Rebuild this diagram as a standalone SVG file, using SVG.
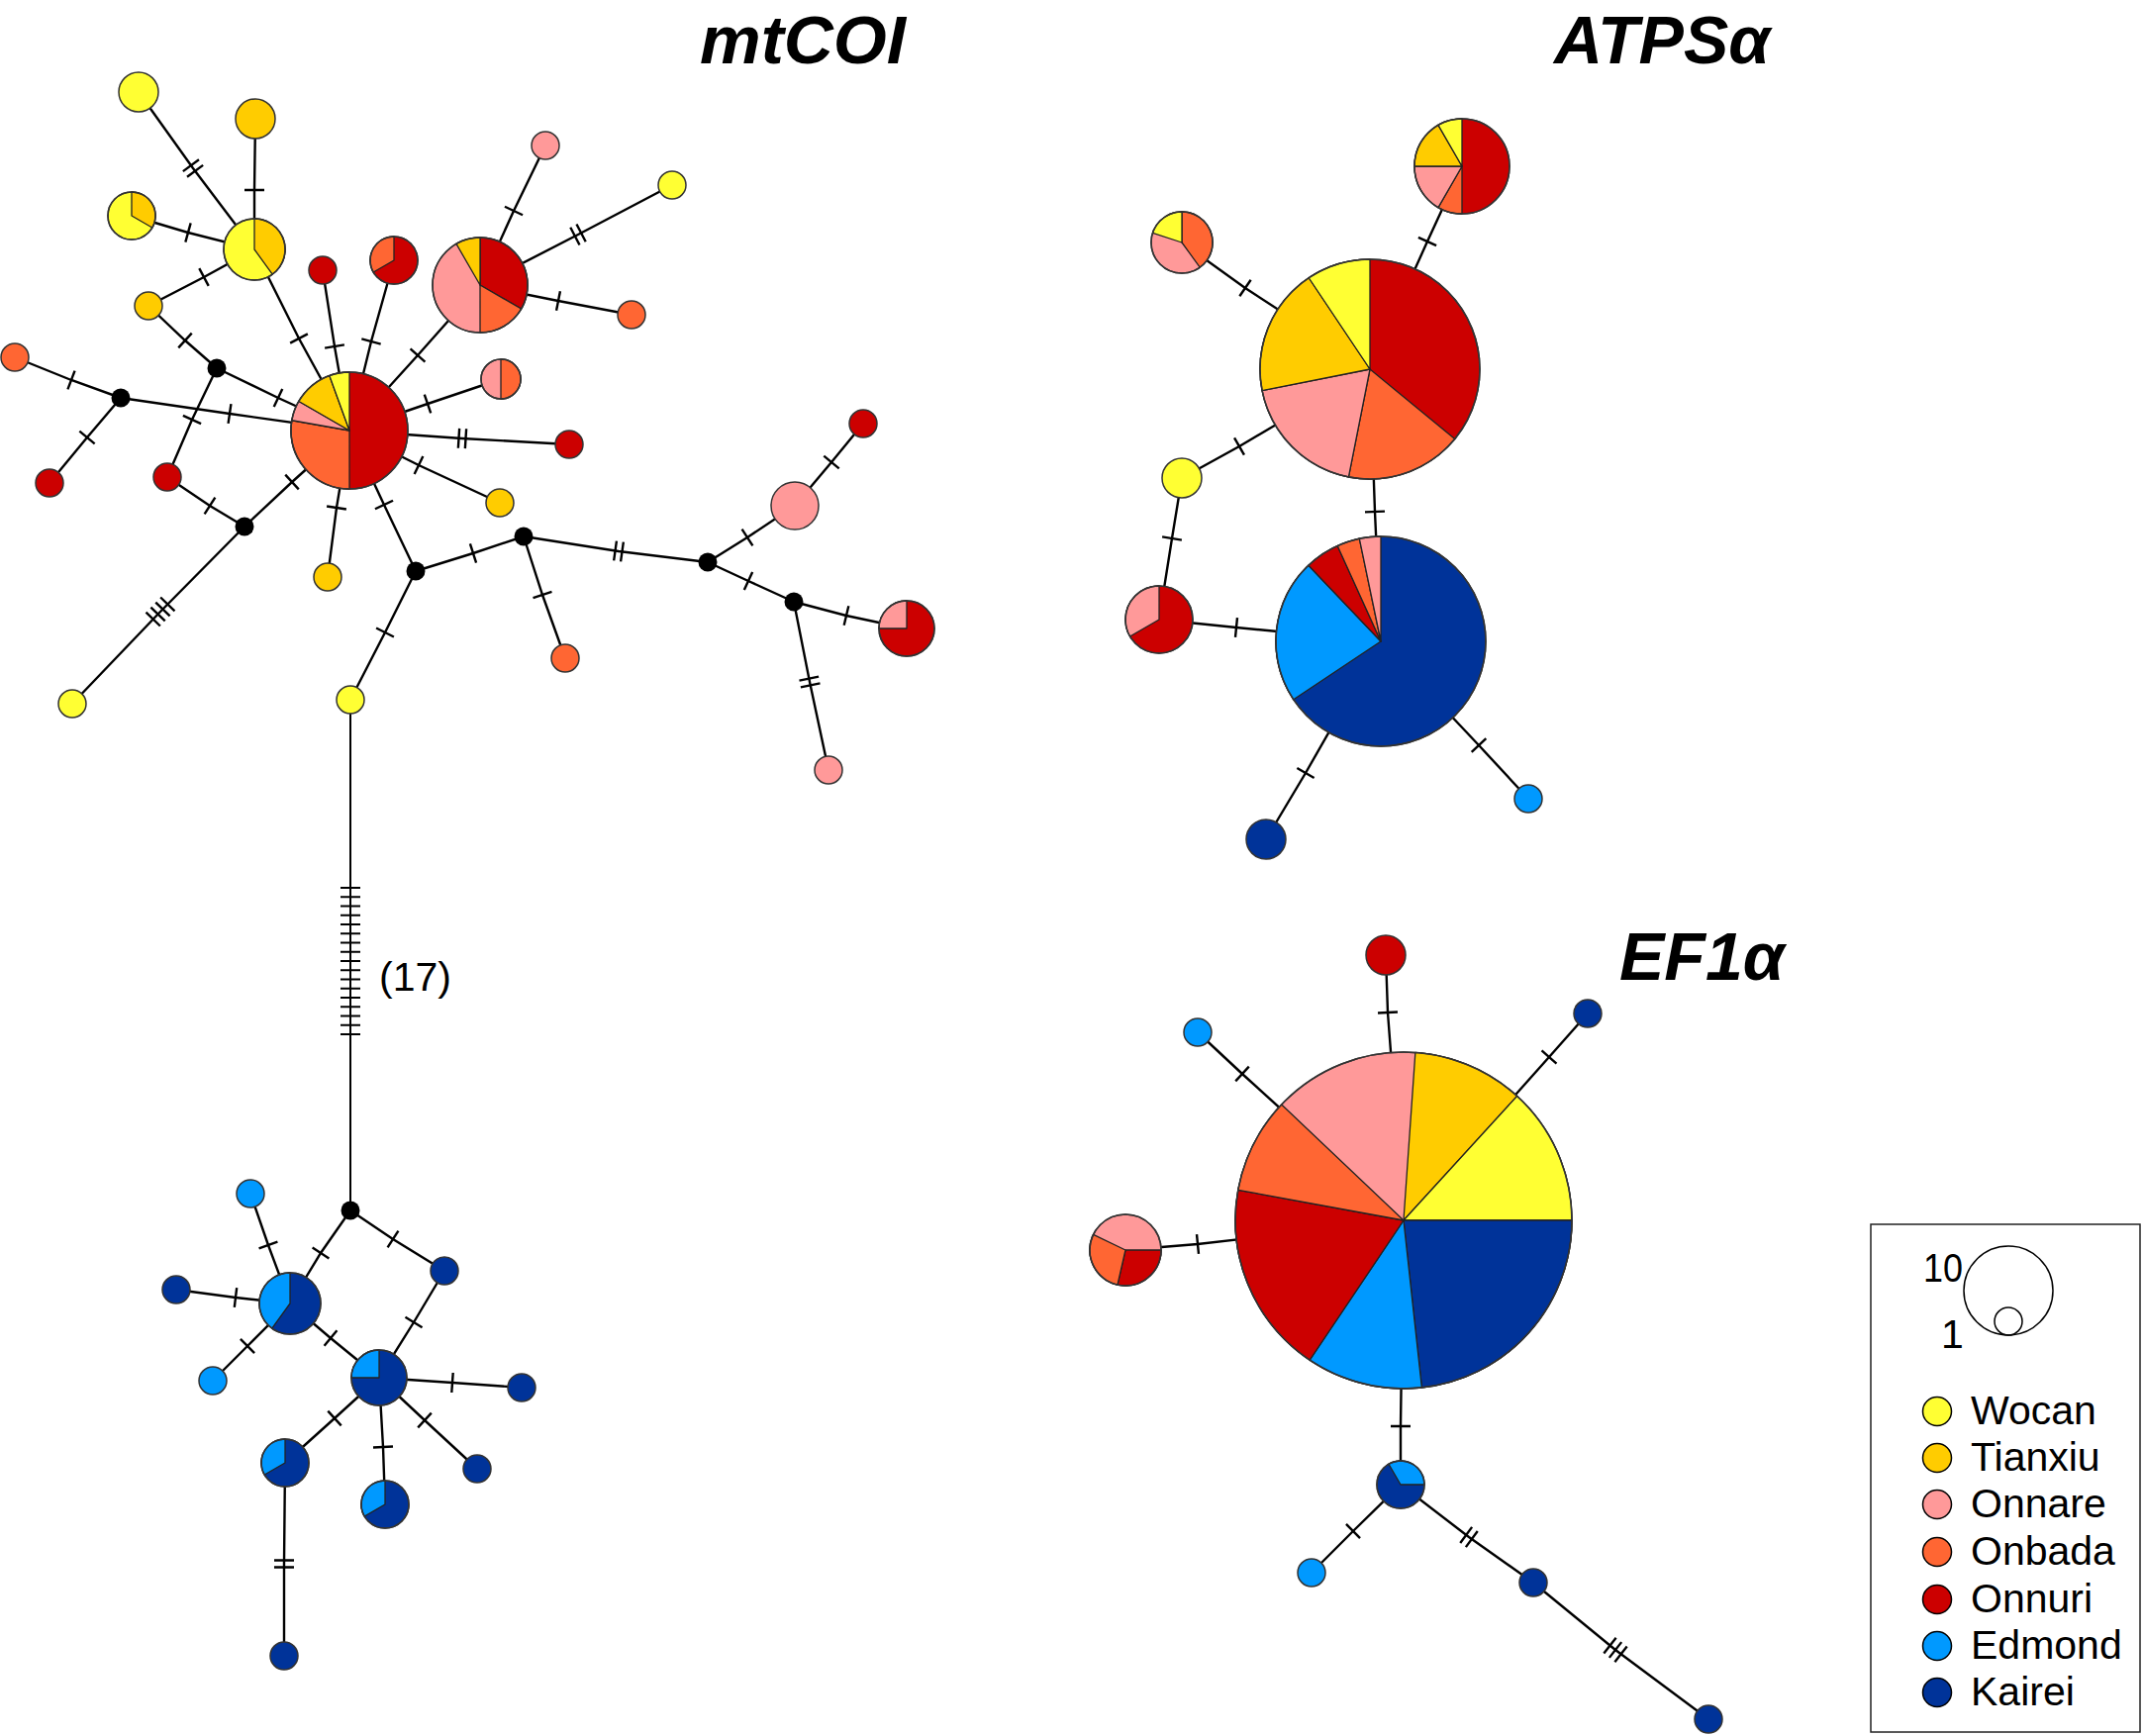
<svg xmlns="http://www.w3.org/2000/svg" width="2165" height="1754" viewBox="0 0 2165 1754">
<style>
.e{fill:none;stroke:#000;stroke-width:2.4}
.e17{fill:none;stroke:#000;stroke-width:2}
.tk{fill:none;stroke:#000;stroke-width:2.4}
.n{stroke:#333;stroke-width:1.5}
.o{fill:none;stroke:#333;stroke-width:1.5}
.w{stroke:#222;stroke-width:1.3;stroke-linejoin:round}
.k{fill:#000}
.W{fill:#FFFF33}.T{fill:#FFCC00}.P{fill:#FF9999}.O{fill:#FF6633}.R{fill:#CC0000}.E{fill:#0099FF}.K{fill:#003399}
.ttl{font-family:"Liberation Sans",Arial,sans-serif;font-weight:bold;font-style:italic;font-size:68px;fill:#000}
.lg{font-family:"Liberation Sans",Arial,sans-serif;font-size:41px;fill:#000}
.lc{stroke:#000;stroke-width:1.5}
</style>
<defs>
<marker id="t1" markerUnits="userSpaceOnUse" orient="auto" overflow="visible" markerWidth="1" markerHeight="1"><path class="tk" d="M0,-10V10"/></marker>
<marker id="t2" markerUnits="userSpaceOnUse" orient="auto" overflow="visible" markerWidth="1" markerHeight="1"><path class="tk" d="M-3.5,-10V10M3.5,-10V10"/></marker>
<marker id="t3" markerUnits="userSpaceOnUse" orient="auto" overflow="visible" markerWidth="1" markerHeight="1"><path class="tk" d="M-7,-10V10M0,-10V10M7,-10V10"/></marker>
<marker id="t4" markerUnits="userSpaceOnUse" orient="auto" overflow="visible" markerWidth="1" markerHeight="1"><path class="tk" d="M-10.5,-10V10M-3.5,-10V10M3.5,-10V10M10.5,-10V10"/></marker>
<marker id="t17" markerUnits="userSpaceOnUse" orient="auto" overflow="visible" markerWidth="1" markerHeight="1"><path d="M0,-10V10" fill="none" stroke="#000" stroke-width="2"/></marker>
</defs>

<g id="connectors">
<g class="e" marker-mid="url(#t1)">
<path d="M258,120L257,192L257,252"/>
<path d="M133,218L190,235L257,252"/>
<path d="M150,309L206,280L257,252"/>
<path d="M257,252L302,342L353,435"/>
<path d="M326,273L338,350L353,435"/>
<path d="M398,263L375,345L353,435"/>
<path d="M150,309L187,344L219,372"/>
<path d="M219,372L281,402L353,435"/>
<path d="M15,361L72,384L122,402"/>
<path d="M122,402L232,418L353,435"/>
<path d="M219,372L194,424L169,482"/>
<path d="M122,402L88,442L50,488"/>
<path d="M169,482L212,511L247,532"/>
<path d="M247,532L295,487L353,435"/>
<path d="M353,435L340,513L331,583"/>
<path d="M353,435L388,510L420,577"/>
<path d="M420,577L389,639L354,707"/>
<path d="M353,435L422,359L485,288"/>
<path d="M353,435L432,408L506,383"/>
<path d="M353,435L423,470L505,508"/>
<path d="M485,288L519,213L551,147"/>
<path d="M485,288L564,304L638,318"/>
<path d="M420,577L478,559L529,542"/>
<path d="M529,542L548,601L571,665"/>
<path d="M715,568L755,543L803,511"/>
<path d="M803,511L840,467L872,428"/>
<path d="M715,568L756,587L802,608"/>
<path d="M802,608L855,622L916,635"/>
<path d="M354,1223L324,1266L293,1317"/>
<path d="M354,1223L397,1252L449,1284"/>
<path d="M253,1206L271,1258L293,1317"/>
<path d="M178,1303L238,1311L293,1317"/>
<path d="M215,1395L250,1360L293,1317"/>
<path d="M293,1317L334,1352L383,1392"/>
<path d="M449,1284L418,1336L383,1392"/>
<path d="M383,1392L457,1397L527,1402"/>
<path d="M383,1392L429,1435L482,1484"/>
<path d="M383,1392L338,1433L288,1478"/>
<path d="M383,1392L387,1462L389,1520"/>
<path d="M1384,373L1442,244L1477,168"/>
<path d="M1384,373L1258,291L1194,245"/>
<path d="M1384,373L1252,451L1194,483"/>
<path d="M1384,373L1389,517L1395,648"/>
<path d="M1194,483L1184,544L1171,626"/>
<path d="M1171,626L1249,634L1395,648"/>
<path d="M1395,648L1319,781L1279,848"/>
<path d="M1395,648L1494,753L1544,807"/>
<path d="M1418,1233L1402,1023L1400,965"/>
<path d="M1418,1233L1255,1085L1210,1043"/>
<path d="M1418,1233L1565,1068L1604,1024"/>
<path d="M1137,1263L1210,1257L1418,1233"/>
<path d="M1418,1233L1415,1441L1415,1500"/>
<path d="M1415,1500L1367,1547L1325,1589"/>
</g>
<g class="e" marker-mid="url(#t2)">
<path d="M140,93L195,170L257,252"/>
<path d="M353,435L467,443L575,449"/>
<path d="M485,288L584,237L679,187"/>
<path d="M529,542L625,557L715,568"/>
<path d="M802,608L818,689L837,778"/>
<path d="M288,1478L287,1580L287,1673"/>
<path d="M1415,1500L1484,1553L1549,1599"/>
</g>
<path class="e" marker-mid="url(#t3)" d="M1549,1599L1632,1667L1726,1737"/>
<path class="e" marker-mid="url(#t4)" d="M247,532L162,618L73,711"/>
<path class="e17" marker-mid="url(#t17)" d="M354,707L354,897L354,906.25L354,915.5L354,924.75L354,934L354,943.25L354,952.5L354,961.75L354,971L354,980.25L354,989.5L354,998.75L354,1008L354,1017.25L354,1026.5L354,1035.75L354,1045L354,1223"/>
</g>

<!-- mtCOI nodes -->
<g id="m1" transform="translate(353,435)">
<circle class="n R" r="59"/>
<path class="w O" d="M0,0L0,59A59,59 0 0 1 -58.10,-10.25Z"/>
<path class="w P" d="M0,0L-58.10,-10.25A59,59 0 0 1 -51.10,-29.5Z"/>
<path class="w T" d="M0,0L-51.10,-29.5A59,59 0 0 1 -20.18,-55.44Z"/>
<path class="w W" d="M0,0L-20.18,-55.44A59,59 0 0 1 0,-59Z"/>
<circle class="o" r="59"/>
</g>
<g id="m2" transform="translate(257,252)">
<circle class="n W" r="31"/>
<path class="w T" d="M0,0L0,-31A31,31 0 0 1 18.22,25.08Z"/>
<circle class="o" r="31"/>
</g>
<g id="m3"><circle class="n W" cx="140" cy="93" r="20"/></g>
<g id="m4"><circle class="n T" cx="258" cy="120" r="20"/></g>
<g id="m5" transform="translate(133,218)">
<circle class="n W" r="24"/>
<path class="w T" d="M0,0L0,-24A24,24 0 0 1 20.78,12Z"/>
<circle class="o" r="24"/>
</g>
<g id="m6"><circle class="n T" cx="150" cy="309" r="14"/></g>
<g id="m7"><circle class="n O" cx="15" cy="361" r="14"/></g>
<g id="m8"><circle class="k" cx="122" cy="402" r="9.5"/></g>
<g id="m9"><circle class="k" cx="219" cy="372" r="9.5"/></g>
<g id="m10"><circle class="n R" cx="326" cy="273" r="14"/></g>
<g id="m11" transform="translate(398,263)">
<circle class="n R" r="24"/>
<path class="w O" d="M0,0L-20.78,12A24,24 0 0 1 0,-24Z"/>
<circle class="o" r="24"/>
</g>
<g id="m12" transform="translate(485,288)">
<circle class="n P" r="48"/>
<path class="w R" d="M0,0L0,-48A48,48 0 0 1 41.57,24Z"/>
<path class="w O" d="M0,0L41.57,24A48,48 0 0 1 0,48Z"/>
<path class="w T" d="M0,0L-24,-41.57A48,48 0 0 1 0,-48Z"/>
<circle class="o" r="48"/>
</g>
<g id="m13"><circle class="n P" cx="551" cy="147" r="14"/></g>
<g id="m14"><circle class="n W" cx="679" cy="187" r="14"/></g>
<g id="m15"><circle class="n O" cx="638" cy="318" r="14"/></g>
<g id="m16" transform="translate(506,383)">
<circle class="n P" r="20"/>
<path class="w O" d="M0,0L0,-20A20,20 0 0 1 0,20Z"/>
<circle class="o" r="20"/>
</g>
<g id="m17"><circle class="n R" cx="575" cy="449" r="14"/></g>
<g id="m18"><circle class="n T" cx="505" cy="508" r="14"/></g>
<g id="m19"><circle class="n R" cx="50" cy="488" r="14"/></g>
<g id="m20"><circle class="n R" cx="169" cy="482" r="14"/></g>
<g id="m21"><circle class="k" cx="247" cy="532" r="9.5"/></g>
<g id="m22"><circle class="n W" cx="73" cy="711" r="14"/></g>
<g id="m23"><circle class="n T" cx="331" cy="583" r="14"/></g>
<g id="m24"><circle class="k" cx="420" cy="577" r="9.5"/></g>
<g id="m25"><circle class="n W" cx="354" cy="707" r="14"/></g>
<g id="m26"><circle class="k" cx="529" cy="542" r="9.5"/></g>
<g id="m27"><circle class="n O" cx="571" cy="665" r="14"/></g>
<g id="m28"><circle class="k" cx="715" cy="568" r="9.5"/></g>
<g id="m29"><circle class="n P" cx="803" cy="511" r="24"/></g>
<g id="m30"><circle class="n R" cx="872" cy="428" r="14"/></g>
<g id="m31"><circle class="k" cx="802" cy="608" r="9.5"/></g>
<g id="m32" transform="translate(916,635)">
<circle class="n R" r="28"/>
<path class="w P" d="M0,0L-28,0A28,28 0 0 1 0,-28Z"/>
<circle class="o" r="28"/>
</g>
<g id="m33"><circle class="n P" cx="837" cy="778" r="14"/></g>
<g id="m34"><circle class="k" cx="354" cy="1223" r="9.5"/></g>
<g id="m35"><circle class="n E" cx="253" cy="1206" r="14"/></g>
<g id="m36" transform="translate(293,1317)">
<circle class="n K" r="31"/>
<path class="w E" d="M0,0L-18.22,25.08A31,31 0 0 1 0,-31Z"/>
<circle class="o" r="31"/>
</g>
<g id="m37"><circle class="n K" cx="178" cy="1303" r="14"/></g>
<g id="m38"><circle class="n E" cx="215" cy="1395" r="14"/></g>
<g id="m39"><circle class="n K" cx="449" cy="1284" r="14"/></g>
<g id="m40" transform="translate(383,1392)">
<circle class="n K" r="28"/>
<path class="w E" d="M0,0L-28,0A28,28 0 0 1 0,-28Z"/>
<circle class="o" r="28"/>
</g>
<g id="m41"><circle class="n K" cx="527" cy="1402" r="14"/></g>
<g id="m42"><circle class="n K" cx="482" cy="1484" r="14"/></g>
<g id="m43" transform="translate(288,1478)">
<circle class="n K" r="24"/>
<path class="w E" d="M0,0L-20.78,12A24,24 0 0 1 0,-24Z"/>
<circle class="o" r="24"/>
</g>
<g id="m44" transform="translate(389,1520)">
<circle class="n K" r="24"/>
<path class="w E" d="M0,0L-20.78,12A24,24 0 0 1 0,-24Z"/>
<circle class="o" r="24"/>
</g>
<g id="m45"><circle class="n K" cx="287" cy="1673" r="14"/></g>

<!-- ATPSa nodes -->
<g id="a1" transform="translate(1384,373)">
<circle class="n R" r="111"/>
<path class="w O" d="M0,0L85.77,70.45A111,111 0 0 1 -21.56,108.89Z"/>
<path class="w P" d="M0,0L-21.56,108.89A111,111 0 0 1 -108.89,21.56Z"/>
<path class="w T" d="M0,0L-108.89,21.56A111,111 0 0 1 -61.75,-92.24Z"/>
<path class="w W" d="M0,0L-61.75,-92.24A111,111 0 0 1 0,-111Z"/>
<circle class="o" r="111"/>
</g>
<g id="a2" transform="translate(1477,168)">
<circle class="n R" r="48"/>
<path class="w O" d="M0,0L0,48A48,48 0 0 1 -24,41.57Z"/>
<path class="w P" d="M0,0L-24,41.57A48,48 0 0 1 -48,0Z"/>
<path class="w T" d="M0,0L-48,0A48,48 0 0 1 -24,-41.57Z"/>
<path class="w W" d="M0,0L-24,-41.57A48,48 0 0 1 0,-48Z"/>
<circle class="o" r="48"/>
</g>
<g id="a3" transform="translate(1194,245)">
<circle class="n P" r="31"/>
<path class="w O" d="M0,0L0,-31A31,31 0 0 1 18.22,25.08Z"/>
<path class="w W" d="M0,0L-29.48,-9.58A31,31 0 0 1 0,-31Z"/>
<circle class="o" r="31"/>
</g>
<g id="a4"><circle class="n W" cx="1194" cy="483" r="20"/></g>
<g id="a5" transform="translate(1171,626)">
<circle class="n R" r="34"/>
<path class="w P" d="M0,0L-29.44,17A34,34 0 0 1 0,-34Z"/>
<circle class="o" r="34"/>
</g>
<g id="a6" transform="translate(1395,648)">
<circle class="n K" r="106"/>
<path class="w E" d="M0,0L-88.19,58.81A106,106 0 0 1 -73.10,-76.77Z"/>
<path class="w R" d="M0,0L-73.10,-76.77A106,106 0 0 1 -43.79,-96.53Z"/>
<path class="w O" d="M0,0L-43.79,-96.53A106,106 0 0 1 -21.68,-103.76Z"/>
<path class="w P" d="M0,0L-21.68,-103.76A106,106 0 0 1 0,-106Z"/>
<circle class="o" r="106"/>
</g>
<g id="a7"><circle class="n K" cx="1279" cy="848" r="20"/></g>
<g id="a8"><circle class="n E" cx="1544" cy="807" r="14"/></g>

<!-- EF1a nodes -->
<g id="f1" transform="translate(1418,1233)">
<circle class="n P" r="170"/>
<path class="w T" d="M0,0L11.86,-169.59A170,170 0 0 1 114.63,-125.55Z"/>
<path class="w W" d="M0,0L114.63,-125.55A170,170 0 0 1 170,0Z"/>
<path class="w K" d="M0,0L170,0A170,170 0 0 1 18.36,169.01Z"/>
<path class="w E" d="M0,0L18.36,169.01A170,170 0 0 1 -94.81,141.10Z"/>
<path class="w R" d="M0,0L-94.81,141.10A170,170 0 0 1 -167.21,-30.69Z"/>
<path class="w O" d="M0,0L-167.21,-30.69A170,170 0 0 1 -123.32,-117.03Z"/>
<circle class="o" r="170"/>
</g>
<g id="f2"><circle class="n R" cx="1400" cy="965" r="20"/></g>
<g id="f3"><circle class="n E" cx="1210" cy="1043" r="14"/></g>
<g id="f4"><circle class="n K" cx="1604" cy="1024" r="14"/></g>
<g id="f5" transform="translate(1137,1263)">
<circle class="n P" r="36"/>
<path class="w R" d="M0,0L36,0A36,36 0 0 1 -8.04,35.09Z"/>
<path class="w O" d="M0,0L-8.04,35.09A36,36 0 0 1 -32.44,-15.61Z"/>
<circle class="o" r="36"/>
</g>
<g id="f6" transform="translate(1415,1500)">
<circle class="n K" r="24"/>
<path class="w E" d="M0,0L-12,-20.78A24,24 0 0 1 24,0Z"/>
<circle class="o" r="24"/>
</g>
<g id="f7"><circle class="n E" cx="1325" cy="1589" r="14"/></g>
<g id="f8"><circle class="n K" cx="1549" cy="1599" r="14"/></g>
<g id="f9"><circle class="n K" cx="1726" cy="1737" r="14"/></g>

<!-- titles -->
<text class="ttl" x="707" y="64" font-size="62" textLength="208" lengthAdjust="spacingAndGlyphs">mtCOI</text>
<text class="ttl" x="1570" y="64">ATPSα</text>
<text class="ttl" x="1636" y="990">EF1α</text>
<text class="lg" x="383" y="1001" font-size="44">(17)</text>

<!-- legend -->
<g id="legend">
<rect x="1890" y="1237" width="272" height="513" fill="none" stroke="#222" stroke-width="1.5"/>
<circle cx="2029" cy="1304" r="45" fill="none" class="lc"/>
<circle cx="2029" cy="1335" r="14" fill="none" class="lc"/>
<text class="lg" x="1943" y="1295" font-size="48" textLength="40" lengthAdjust="spacingAndGlyphs">10</text>
<text class="lg" x="1961" y="1362" font-size="48">1</text>
<circle class="lc W" cx="1957" cy="1426" r="14.5"/>
<circle class="lc T" cx="1957" cy="1473" r="14.5"/>
<circle class="lc P" cx="1957" cy="1520" r="14.5"/>
<circle class="lc O" cx="1957" cy="1568" r="14.5"/>
<circle class="lc R" cx="1957" cy="1616" r="14.5"/>
<circle class="lc E" cx="1957" cy="1663" r="14.5"/>
<circle class="lc K" cx="1957" cy="1710" r="14.5"/>
<text class="lg" x="1991" y="1439">Wocan</text>
<text class="lg" x="1991" y="1486">Tianxiu</text>
<text class="lg" x="1991" y="1533">Onnare</text>
<text class="lg" x="1991" y="1581">Onbada</text>
<text class="lg" x="1991" y="1629">Onnuri</text>
<text class="lg" x="1991" y="1676">Edmond</text>
<text class="lg" x="1991" y="1723">Kairei</text>
</g>
</svg>
